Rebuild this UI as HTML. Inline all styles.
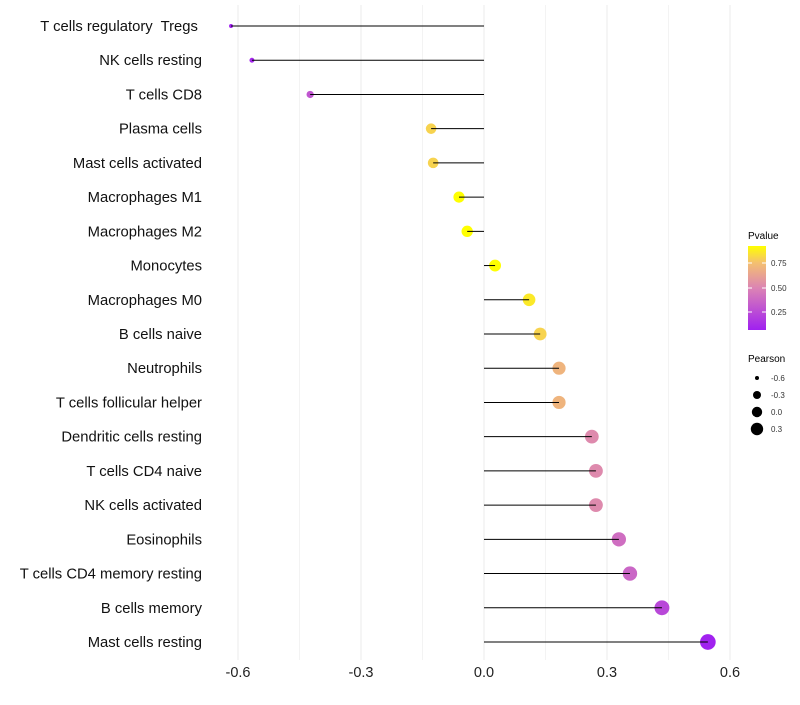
<!DOCTYPE html>
<html><head><meta charset="utf-8"><style>
body{margin:0;background:#fff;font-family:"Liberation Sans",sans-serif}
text{white-space:pre}
</style></head><body>
<svg id="chart" width="800" height="700" xmlns="http://www.w3.org/2000/svg" font-family="Liberation Sans, sans-serif">
<defs><linearGradient id="pg" x1="0" y1="1" x2="0" y2="0">
<stop offset="0" stop-color="#A020F0"/><stop offset="0.5" stop-color="#DC84B4"/><stop offset="0.8" stop-color="#F4C070"/><stop offset="1" stop-color="#FFFF00"/></linearGradient></defs>
<g id="grid"></g><g id="marks"></g><g id="labels"></g>
<g>
<text x="748" y="239" font-size="10">Pvalue</text>
<rect x="748" y="246" width="18" height="84" fill="url(#pg)"/>
<line x1="748" y1="263" x2="752" y2="263" stroke="#fff"/><line x1="762" y1="263" x2="766" y2="263" stroke="#fff"/>
<line x1="748" y1="288" x2="752" y2="288" stroke="#fff"/><line x1="762" y1="288" x2="766" y2="288" stroke="#fff"/>
<line x1="748" y1="312" x2="752" y2="312" stroke="#fff"/><line x1="762" y1="312" x2="766" y2="312" stroke="#fff"/>
<text x="771" y="266" font-size="8" fill="#333">0.75</text>
<text x="771" y="291" font-size="8" fill="#333">0.50</text>
<text x="771" y="315" font-size="8" fill="#333">0.25</text>
</g>
<g>
<text x="748" y="362" font-size="10">Pearson</text>
<circle cx="757" cy="378" r="2"/><text x="771" y="381" font-size="8" fill="#333">-0.6</text>
<circle cx="757" cy="395" r="4"/><text x="771" y="398" font-size="8" fill="#333">-0.3</text>
<circle cx="757" cy="412" r="5.2"/><text x="771" y="415" font-size="8" fill="#333">0.0</text>
<circle cx="757" cy="429" r="6.2"/><text x="771" y="432" font-size="8" fill="#333">0.3</text>
</g>
</svg>
<script>
const categories=["T cells regulatory  Tregs ","NK cells resting","T cells CD8","Plasma cells","Mast cells activated","Macrophages M1","Macrophages M2","Monocytes","Macrophages M0","B cells naive","Neutrophils","T cells follicular helper","Dendritic cells resting","T cells CD4 naive","NK cells activated","Eosinophils","T cells CD4 memory resting","B cells memory","Mast cells resting"];
const pearson=[-0.617,-0.566,-0.424,-0.129,-0.124,-0.061,-0.041,0.027,0.110,0.137,0.183,0.183,0.263,0.273,0.273,0.329,0.356,0.434,0.546];
const pvalue=[0.05,0.1,0.3,0.8,0.8,0.92,0.93,0.93,0.86,0.8,0.7,0.7,0.52,0.52,0.52,0.4,0.37,0.24,0.08];
const xTicks=[-0.6,-0.3,0.0,0.3,0.6];
const xTickLabels=["-0.6","-0.3","0.0","0.3","0.6"];
const ns="http://www.w3.org/2000/svg";
const X=v=>484+v*410;
const Y=i=>26+i*(616/18);
const R=v=>1.05*Math.sqrt(Math.max(3.5,45*(v+0.689)));
function col(p){const t=Math.max(0,Math.min(1,(p-0.07)/(0.92-0.07)));
const st=[[0,[160,32,240]],[0.5,[220,132,180]],[0.8,[244,192,112]],[1,[255,255,0]]];
for(let k=1;k<st.length;k++){if(t<=st[k][0]){const a=st[k-1],b=st[k],f=(t-a[0])/(b[0]-a[0]);
return `rgb(${a[1].map((c,j)=>Math.round(c+(b[1][j]-c)*f)).join(',')})`;}}return "rgb(255,255,0)";}
function mk(t,at,p){const e=document.createElementNS(ns,t);for(const k in at)e.setAttribute(k,at[k]);p.appendChild(e);return e;}
const grid=document.getElementById('grid'),marks=document.getElementById('marks'),labels=document.getElementById('labels');
for(let v=-0.6;v<=0.601;v+=0.15){const g=mk('line',{x1:X(v),x2:X(v),y1:5,y2:660,stroke:'#ebebeb','stroke-width':Math.abs(Math.round(v/0.3)*0.3-v)<0.01?1:0.6},grid);

}
xTicks.forEach((v,i)=>{const t=mk('text',{x:X(v),y:677,'font-size':14.5,'text-anchor':'middle',fill:'#222'},labels);t.textContent=xTickLabels[i];

});
categories.forEach((c,i)=>{const y=Y(i);
const t=mk('text',{x:202,y:y+5,'font-size':14.8,'text-anchor':'end',fill:'#111'},labels);t.textContent=c;


const d=mk('circle',{cx:X(pearson[i]),cy:y,r:R(pearson[i]),fill:col(pvalue[i])},marks);


const l=mk('line',{x1:X(0),x2:X(pearson[i]),y1:y,y2:y,stroke:'#000','stroke-width':1},marks);

});
</script>
</body></html>
